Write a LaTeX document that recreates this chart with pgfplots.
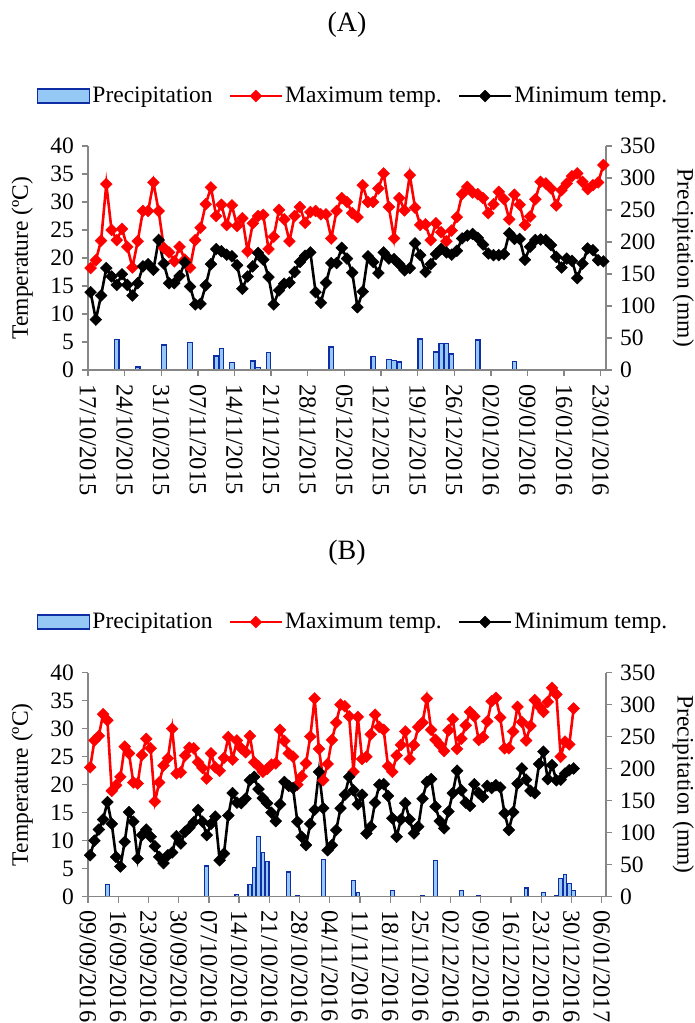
\documentclass[border=0pt]{standalone}
\usepackage{fontspec}
\setmainfont{Liberation Serif}
\usepackage{pgfplots}
\usepackage{pgfplotstable}
\pgfplotsset{compat=1.18}
\definecolor{barfill}{RGB}{150,200,245}
\definecolor{barline}{RGB}{15,45,165}
\definecolor{axgray}{RGB}{134,134,134}

\pgfplotstableread{
d tmax tmin
0 18.2 13.9
1 19.6 9.0
2 23.1 13.3
3 33.2 18.2
4 25.0 16.7
5 23.2 15.2
6 25.2 17.1
7 22.0 15.2
8 18.3 13.3
9 23.0 15.5
10 28.4 18.5
11 28.4 18.9
12 33.5 17.9
13 28.4 23.2
14 21.8 19.0
15 21.0 15.5
16 19.4 15.5
17 22.0 16.8
18 19.7 19.2
19 18.3 14.9
20 23.2 11.7
21 25.4 11.8
22 29.6 15.1
23 32.6 18.9
24 27.5 21.6
25 29.5 21.2
26 25.9 20.6
27 29.4 20.3
28 25.7 18.7
29 27.1 14.5
30 21.2 16.7
31 26.2 18.5
32 27.5 20.9
33 27.7 19.7
34 21.6 16.6
35 23.8 11.7
36 28.6 14.2
37 26.9 15.4
38 23.0 15.6
39 27.5 17.5
40 29.1 19.3
41 26.3 20.4
42 28.2 21.0
43 28.4 13.9
44 27.8 12.0
45 27.8 15.6
46 23.5 19.1
47 28.4 19.1
48 30.7 21.8
49 30.0 19.9
50 28.0 17.4
51 27.3 11.2
52 33.0 14.0
53 30.0 20.3
54 30.0 19.3
55 32.4 17.3
56 35.1 21.0
57 29.1 19.9
58 23.5 19.8
59 30.7 18.9
60 28.5 17.8
61 34.8 18.2
62 29.0 22.6
63 25.9 20.5
64 26.0 17.5
65 23.2 18.9
66 26.2 20.7
67 24.6 21.6
68 23.0 21.0
69 24.9 20.6
70 27.3 21.3
71 31.4 23.5
72 32.7 24.0
73 31.7 24.3
74 31.4 23.6
75 30.7 22.4
76 28.0 20.8
77 29.6 20.5
78 31.8 20.5
79 30.5 20.7
80 26.9 24.4
81 31.3 23.4
82 29.5 23.4
83 25.9 19.7
84 27.4 22.0
85 30.5 23.2
86 33.6 23.3
87 33.3 23.2
88 32.4 22.3
89 29.4 20.2
90 32.1 18.3
91 33.3 19.9
92 34.6 19.5
93 35.1 16.4
94 33.6 19.0
95 32.3 21.7
96 33.0 21.4
97 33.5 19.6
98 36.6 19.4
}\tempA

\pgfplotstableread{
d p
0 0.5
5 48
9 4.7
10 0.8
14 39
15 1
17 0.8
19 43
24 22
25 33
27 11.5
31 14
32 3.6
34 27
35 0.5
41 1
46 36
47 1
54 21
57 16
58 15
59 12.5
63 48.5
64 0.5
66 28
67 42
68 42
69 25
70 0.5
74 47
75 1
80 0.5
81 13
82 0.5
87 1
}\precA

\pgfplotstableread{
d tmax tmin
0 23.1 7.4
1 27.9 10.0
2 28.7 12.0
3 32.6 13.8
4 31.5 16.9
5 18.9 13.0
6 19.9 7.1
7 21.4 5.4
8 26.8 9.8
9 25.6 15.1
10 20.4 13.4
11 20.2 6.8
12 25.3 11.0
13 28.2 12.0
14 26.5 10.7
15 17.0 9.0
16 20.4 7.1
17 23.4 6.0
18 24.7 7.4
19 30.0 7.9
20 22.0 10.8
21 22.2 9.5
22 25.2 11.6
23 26.6 12.3
24 26.5 13.3
25 24.0 15.5
26 23.0 13.4
27 21.1 11.0
28 25.6 13.0
29 23.1 14.3
30 22.5 6.5
31 24.8 7.7
32 28.5 14.5
33 24.5 18.5
34 27.9 16.8
35 26.5 16.7
36 25.8 17.5
37 28.7 20.8
38 24.0 21.4
39 23.3 19.2
40 22.3 17.6
41 22.8 16.7
42 23.6 15.0
43 23.8 13.5
44 29.8 16.5
45 27.8 20.5
46 25.6 19.8
47 25.0 19.4
48 20.0 13.4
49 21.5 10.7
50 23.8 9.2
51 28.6 13.0
52 35.4 15.5
53 26.4 22.3
54 20.8 15.8
55 23.7 8.3
56 28.0 9.2
57 31.1 11.9
58 34.3 15.8
59 34.0 18.2
60 32.2 21.4
61 22.3 19.0
62 32.1 16.5
63 24.6 18.2
64 25.0 11.3
65 29.0 12.5
66 32.5 16.8
67 30.3 20.0
68 29.8 20.1
69 23.3 18.0
70 22.3 14.0
71 25.2 10.7
72 27.1 13.8
73 29.5 16.7
74 24.6 13.8
75 27.1 11.3
76 30.3 12.5
77 31.1 17.5
78 35.4 20.5
79 29.8 21.0
80 28.0 16.1
81 27.1 13.5
82 26.0 12.2
83 29.7 15.2
84 31.7 18.5
85 26.4 22.5
86 28.2 19.0
87 30.6 16.8
88 33.0 16.2
89 32.2 20.1
90 28.0 18.5
91 28.5 17.8
92 31.3 19.8
93 34.9 19.4
94 35.5 19.9
95 32.0 19.5
96 26.5 14.9
97 26.5 11.9
98 29.5 15.1
99 33.9 20.2
100 31.2 22.9
101 27.9 20.9
102 30.5 18.9
103 35.1 18.5
104 34.0 23.7
105 33.0 25.9
106 34.8 21.0
107 37.3 23.5
108 36.1 20.8
109 25.0 20.9
110 27.7 22.0
111 27.2 22.6
112 33.6 22.9
}\tempB

\pgfplotstableread{
d p
4 19
27 48
28 0.8
34 3.6
37 19.5
38 45.5
39 94
40 69
41 55
46 38.5
48 1.5
54 57.5
61 25
62 6.5
63 0.5
69 0.8
70 10
77 1
80 56.5
85 0.5
86 9.4
90 1
100 0.5
101 13.5
105 6.5
106 0.8
108 1
109 28.6
110 35
111 20.5
112 10
}\precB

\pgfplotsset{
  common/.style={
    scale only axis, width=518pt, height=224pt, anchor=south west,
    axis line style={axgray, line width=1.3pt},
    tick style={axgray, line width=1.3pt},
    major tick length=6pt,
    tick align=outside,
    /pgf/number format/assume math mode=true,
    clip=false,
  },
  baraxis/.style={
    common, axis x line=none, axis y line*=right,
    ymin=0, ymax=350, ytick={0,50,...,350},
    ylabel={Precipitation (mm)},
    ylabel style={at={(axis description cs:1.149,0.5)}, rotate=180, anchor=center},
  },
  tempaxis/.style={
    common, axis y line*=left, axis x line*=bottom,
    ymin=0, ymax=40, ytick={0,5,...,40},
    xticklabel style={rotate=-90, anchor=west, font=\fontsize{24.5}{28}\selectfont},
    ylabel={Temperature (ºC)},
    ylabel style={at={(axis description cs:-0.127,0.5)}, anchor=center},
    title style={font=\fontsize{28}{32}\selectfont, yshift=-9pt},
    legend style={draw=none, fill=none, legend columns=3,
      /tikz/every even column/.append style={column sep=14pt}},
  },
  barst/.style={ybar, bar width=0.86, fill=barfill, draw=barline, line width=1.2pt},
  linelegend/.style={legend image code/.code={\draw[mark repeat=2,mark phase=2,##1] plot coordinates {(0pt,0pt) (26pt,0pt) (52pt,0pt)};}},
  maxst/.style={red, line width=2.6pt, mark=square*, mark size=4.2pt,
    mark options={rotate=45, solid, line width=0.4pt, fill=red}, linelegend},
  minst/.style={black, line width=2.6pt, mark=square*, mark size=4.2pt,
    mark options={rotate=45, solid, line width=0.4pt, fill=black}, linelegend},
  barlegend/.style={fill=barfill, draw=barline, line width=1.2pt,
    legend image code/.code={\draw[##1] (0pt,-7pt) rectangle (52pt,7pt);}},
}

\begin{document}
\fontsize{23.5}{28}\selectfont
\begin{tikzpicture}
\useasboundingbox (0pt,0pt) rectangle (694pt,1023pt);

% ---------- Panel A ----------
\begin{axis}[baraxis, at={(88pt,653pt)}, xmin=0, xmax=99]
\addplot[barst] table[x expr=\thisrow{d}+0.5, y=p] {\precA};
\end{axis}
\begin{axis}[tempaxis, at={(88pt,653pt)}, xmin=0, xmax=99,
  xtick={0,7,...,98},
  xticklabels={17/10/2015,24/10/2015,31/10/2015,07/11/2015,14/11/2015,21/11/2015,28/11/2015,05/12/2015,12/12/2015,19/12/2015,26/12/2015,02/01/2016,09/01/2016,16/01/2016,23/01/2016},
  title={(A)}, title style={at={(axis description cs:0.5,1.554)}, anchor=center},
  legend style={at={(axis description cs:0.512,1.223)}, anchor=center}]
\addlegendimage{barlegend}
\addlegendentry{Precipitation}
\addplot[maxst] table[x expr=\thisrow{d}+0.5, y=tmax] {\tempA};
\addlegendentry{Maximum temp.}
\addplot[minst] table[x expr=\thisrow{d}+0.5, y=tmin] {\tempA};
\addlegendentry{Minimum temp.}
\end{axis}

% ---------- Panel B ----------
\begin{axis}[baraxis, at={(88pt,126.3pt)}, xmin=0, xmax=120]
\addplot[barst] table[x expr=\thisrow{d}+0.5, y=p] {\precB};
\end{axis}
\begin{axis}[tempaxis, at={(88pt,126.3pt)}, xmin=0, xmax=120,
  xtick={0,7,...,119},
  xticklabels={09/09/2016,16/09/2016,23/09/2016,30/09/2016,07/10/2016,14/10/2016,21/10/2016,28/10/2016,04/11/2016,11/11/2016,18/11/2016,25/11/2016,02/12/2016,09/12/2016,16/12/2016,23/12/2016,30/12/2016,06/01/2017},
  title={(B)}, title style={at={(axis description cs:0.5,1.548)}, anchor=center},
  legend style={at={(axis description cs:0.512,1.226)}, anchor=center}]
\addlegendimage{barlegend}
\addlegendentry{Precipitation}
\addplot[maxst] table[x expr=\thisrow{d}+0.5, y=tmax] {\tempB};
\addlegendentry{Maximum temp.}
\addplot[minst] table[x expr=\thisrow{d}+0.5, y=tmin] {\tempB};
\addlegendentry{Minimum temp.}
\end{axis}
\end{tikzpicture}
\end{document}
